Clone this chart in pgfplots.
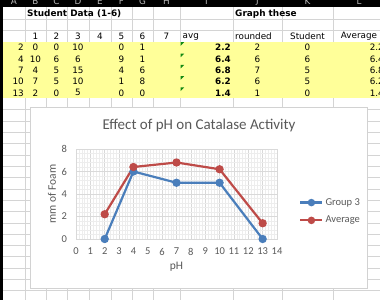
\documentclass[border=0pt]{standalone}
\usepackage{pgfplots}
\pgfplotsset{compat=1.18}
\usepackage{fontspec}
\setmainfont{Carlito}
\newfontfamily\sheet{DejaVu Sans}
\definecolor{gridc}{HTML}{D4D4D4}
\definecolor{cgrid}{HTML}{D9D9D9}
\definecolor{cminor}{HTML}{EDEDED}
\definecolor{yel}{HTML}{FFFF99}
\definecolor{exblue}{HTML}{4A7EBB}
\definecolor{exred}{HTML}{BE4B48}
\definecolor{txt}{HTML}{595959}
\definecolor{tri}{HTML}{118811}
\begin{document}
\begin{tikzpicture}
\useasboundingbox (0,0) rectangle (380pt,300pt);
\clip (0,0) rectangle (380pt,300pt);
\fill[white] (0,0) rectangle (380pt,300pt);
\begin{scope}[x=1pt,y=-1pt,yshift=300pt]
  % sheet gridlines
  \foreach \c in {25,46,67,89,111,132,153,180,233,282,333}
    \draw[gridc,line width=0.6pt] (\c,7) -- (\c,300);
  \foreach \r in {19.3,30.6}
    \draw[gridc,line width=0.6pt] (3,\r) -- (380,\r);
  \foreach \k in {1,...,18}
    \draw[gridc,line width=0.6pt] (3,{98.5+11.3*\k}) -- (380,{98.5+11.3*\k});
  % yellow block
  \fill[yel] (3,42) rectangle (380,98.5);
  % header bar and left bar
  \fill[black] (0,0) rectangle (380,7);
  \fill[black] (0,0) rectangle (3,300);
  \begin{scope}
    \clip (0,0) rectangle (380,7);
    \foreach \x/\l in {14/A,35.5/B,56.5/C,78/D,100/E,121.5/F,142.5/G,166.5/H,206.5/I,257.5/J,307.5/K,359/L}
      \node[text=gray!55,font=\sheet\fontsize{8.8}{10}\selectfont,inner sep=0] at (\x,1.6) {\l};
  \end{scope}
  % sheet text
  \begin{scope}[font=\sheet\fontsize{8.8}{10}\selectfont, every node/.style={inner sep=0, text=black}]
    \node[anchor=west,font=\sheet\bfseries\fontsize{8.9}{10}\selectfont] at (27,14) {Student Data (1-6)};
    \node[anchor=west,font=\sheet\bfseries\fontsize{8.9}{10}\selectfont] at (235,14) {Graph these};
    \foreach \x/\l in {35.5/1,56.5/2,78/3,100/4,121.5/5,142.5/6,166.5/7}
      \node at (\x,36.5) {\l};
    \node[anchor=west] at (182.5,36.5) {avg};
    \node at (253.5,36.5) {rounded};
    \node at (307.5,36.5) {Student};
    \node at (359,36.5) {Average};
    \foreach \y/\a/\b/\c/\d/\f/\g/\i/\j/\k/\l in
      {47.65/2/0/0/10/0/1/2.2/2/0/2.2,
       58.95/4/10/6/6/9/1/6.4/6/6/6.4,
       70.25/7/4/5/15/4/6/6.8/7/5/6.8,
       81.55/10/7/5/10/1/8/6.2/6/5/6.2,
       92.85/13/2/0/5/0/0/1.4/1/0/1.4}{
      \node[anchor=east] at (24,\y) {\a};
      \node at (35.5,\y) {\b};
      \node at (56.5,\y) {\c};
      \node at (78,\y) {\d};
      \node at (121.5,\y) {\f};
      \node at (142.5,\y) {\g};
      \node[anchor=east,font=\sheet\bfseries\fontsize{8.8}{10}\selectfont] at (231,\y) {\i};
      \node at (257.5,\y) {\j};
      \node at (307.5,\y) {\k};
      \node[anchor=east] at (384,\y) {\l};
      \fill[tri] (180.6,{\y-5.4}) -- (184.2,{\y-5.4}) -- (180.6,{\y-1.8}) -- cycle;
    }
  \end{scope}
  % chart area
  \draw[fill=white,draw=gray!35,line width=0.8pt] (30,107) rectangle (367,288);
  \node[text=txt,font=\fontsize{15}{17}\selectfont,inner sep=0] at (199,126) {Effect of pH on Catalase Activity};
\end{scope}
\begin{axis}[at={(76pt,61pt)}, anchor=south west, scale only axis,
  width=201pt, height=90pt,
  xmin=0, xmax=14, ymin=0, ymax=8,
  xtick={0,...,14}, ytick={0,2,...,8},
  minor x tick num=4, minor y tick num=4,
  grid=both,
  major grid style={draw=cgrid,line width=0.6pt},
  minor grid style={draw=cminor,line width=0.4pt},
  axis line style={draw=cgrid,line width=0.6pt},
  major tick length=0pt, minor tick length=0pt,
  /pgf/number format/assume math mode=true,
  ticklabel style={font=\fontsize{10.5}{12}\selectfont,text=txt},
  xticklabel shift=5.5pt, yticklabel shift=5.5pt,
  xlabel={pH}, ylabel={mm of Foam},
  label style={font=\fontsize{11.5}{13}\selectfont,text=txt},
  x label style={at={(axis description cs:0.5,-0.311)},anchor=center},
  y label style={at={(axis description cs:-0.119,0.5)},anchor=center},
  legend style={at={(1.11,0.306)},anchor=west,draw=none,fill=none,inner sep=0pt,
    font=\fontsize{10.5}{12}\selectfont,text=txt,row sep=5.5pt},
  legend cell align=left,
  legend image code/.code={\draw[mark repeat=2,mark phase=2,mark size=2.6pt,#1] plot coordinates {(0pt,0pt)(11pt,0pt)(22pt,0pt)};},
  clip=false]
\addplot[exblue,line width=2.2pt,mark=*,mark size=3pt] coordinates {(2,0)(4,6)(7,5)(10,5)(13,0)};
\addlegendentry{Group 3}
\addplot[exred,line width=2.2pt,mark=*,mark size=3pt] coordinates {(2,2.2)(4,6.4)(7,6.8)(10,6.2)(13,1.4)};
\addlegendentry{Average}
\end{axis}
\end{tikzpicture}
\end{document}
